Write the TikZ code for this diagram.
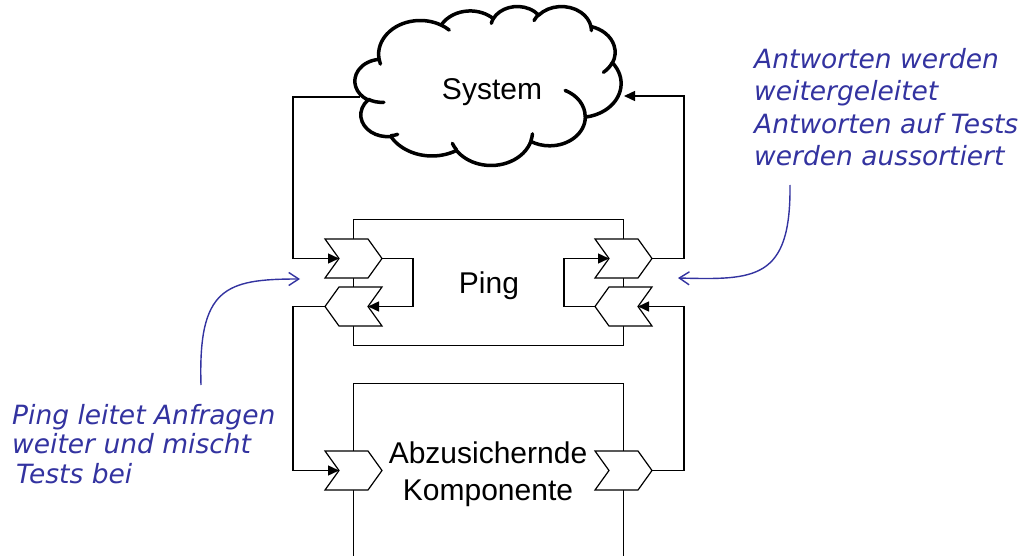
\documentclass[tikz,border=0pt]{standalone}
\usepackage{fontspec}
\setmainfont{Liberation Sans}
\newfontfamily\handfont{DejaVu Sans}
\usetikzlibrary{arrows.meta,calc}
\definecolor{annblue}{RGB}{51,51,160}
\newcommand\mychevR[3]{%
  \draw[chev] (#2,#3-19.5) -- ++(43,0) -- ++(14,19.5) -- ++(-14,19.5) -- ++(-43,0) -- ++(14,-19.5) -- cycle;
  \coordinate (#1in) at (#2+14,#3);
  \coordinate (#1out) at (#2+57,#3);}
\newcommand\mychevL[3]{%
  \draw[chev] (#2,#3) -- ++(14,-19.5) -- ++(43,0) -- ++(-14,19.5) -- ++(14,19.5) -- ++(-43,0) -- cycle;
  \coordinate (#1in) at (#2+43,#3);
  \coordinate (#1out) at (#2,#3);}
\begin{document}
\begin{tikzpicture}[x=1pt,y=-1pt,
  box/.style={draw, line width=1pt, inner sep=0pt},
  boxline/.style={draw, line width=1pt},
  chev/.style={draw, fill=white, line width=1.2pt, line join=miter},
  conn/.style={line width=1.4pt, -{Triangle[length=11pt,width=10pt]}},
  lbl/.style={font=\fontsize{30}{37}\selectfont, inner sep=0pt},
  cloudline/.style={line width=3.5pt, line join=round, line cap=round},
  annR/.style={font=\handfont\itshape\fontsize{26.5}{32.5}\selectfont, text=annblue, align=left, inner sep=0pt, anchor=north west},
  annL/.style={font=\handfont\itshape\fontsize{26.5}{29.5}\selectfont, text=annblue, align=left, inner sep=0pt, anchor=north west},
  annarrow/.style={draw=annblue, line width=1.4pt, -{Straight Barb[length=10pt,width=13pt]}}]
\useasboundingbox (0,0) rectangle (1023,556);

% boxes
\node[box, minimum width=270pt, minimum height=125pt] (ping) at (488,282.5) {};
\node[lbl, anchor=base] (pinglbl) at (489,293) {Ping};
\draw[boxline] (353,557) -- (353,383) -- (623,383) -- (623,557);
\node[lbl, align=center] (komp) at (488,474) {Abzusichernde\\Komponente};

% bus coordinates
\coordinate (busL) at (293,0);
\coordinate (busLi) at (413,0);
\coordinate (busRi) at (564,0);
\coordinate (busR) at (684,0);
\coordinate (cloudL) at (360,97);
\coordinate (cloudR) at (624,96);

% chevrons (ports)
\mychevR{L1}{325}{258.5}
\mychevL{L2}{325}{306.5}
\mychevR{R1}{595}{258.5}
\mychevL{R2}{595}{306.5}
\mychevR{A1}{325}{470.5}
\mychevR{A2}{595}{470.5}

% connectors
\draw[conn] (cloudL) -| (busL |- L1in) -- (L1in);
\draw[conn] (L1out) -| (busLi |- L2in) -- (L2in);
\draw[conn] (L2out) -| (busL |- A1in) -- (A1in);
\draw[conn] (A2out) -| (busR |- R2in) -- (R2in);
\draw[conn] (R2out) -| (busRi |- R1in) -- (R1in);
\draw[conn] (R1out) -| (busR |- cloudR) -- (cloudR);

% cloud
\begin{scope}[shift={(355,6)}, x=0.61574pt, y=-0.36782pt]
\draw[cloudline, fill=white] (39.00,143.70)
  arc[start angle=-187.745, end angle=-59.636, x radius=67.53, y radius=91.90]
  arc[start angle=-152.02, end angle=-45.405, x radius=53.33, y radius=72.67]
  arc[start angle=-153.50, end angle=-37.346, x radius=43.65, y radius=59.45]
  arc[start angle=-139.71, end angle=-10.211, x radius=48.57, y radius=65.95]
  arc[start angle=-74.77, end angle=23.207, x radius=53.33, y radius=72.73]
  arc[start angle=-37.54, end angle=81.863, x radius=67.75, y radius=92.20]
  arc[start angle=0.4596, end angle=121.981, x radius=57.85, y radius=78.67]
  arc[start angle=16.845, end angle=146.225, x radius=67.52, y radius=92.15]
  arc[start angle=58.983, end angle=150.17, x radius=77.20, y radius=105.43]
  arc[start angle=-276.694, end angle=-136.89, x radius=43.60, y radius=59.18]
  arc[start angle=-239.64, end angle=-95.888, x radius=43.45, y radius=59.45]
  -- cycle;
\draw[cloudline] (46.93,261.77) arc[start angle=85.546, end angle=120.36, x radius=43.45, y radius=59.45];
\draw[cloudline] (69.28,348.99) arc[start angle=68.235, end angle=83.306, x radius=43.60, y radius=59.18];
\draw[cloudline] (164.78,390.90) arc[start angle=146.225, end angle=158.473, x radius=67.52, y radius=92.15];
\draw[cloudline] (288.27,347.51) arc[start angle=4.738, end angle=16.845, x radius=67.52, y radius=92.15];
\draw[cloudline] (341.29,229.54) arc[start angle=-64.03, end angle=0.4596, x radius=57.85, y radius=78.67];
\draw[cloudline] (417.98,153.54) arc[start angle=23.207, end angle=49.647, x radius=53.33, y radius=72.73];
\draw[cloudline] (383.24,54.26) arc[start angle=-10.211, end angle=0.821, x radius=48.57, y radius=65.95];
\draw[cloudline] (290.78,39.52) arc[start angle=-156.275, end angle=-139.71, x radius=48.57, y radius=65.95];
\draw[cloudline] (221.41,47.20) arc[start angle=-167.726, end angle=-153.50, x radius=43.65, y radius=59.45];
\draw[cloudline] (140.00,51.92) arc[start angle=-59.636, end angle=-45.69, x radius=67.53, y radius=91.90];
\draw[cloudline] (41.27,157.89) arc[start angle=163.194, end angle=172.255, x radius=67.53, y radius=91.90];
\end{scope}
\node[lbl, anchor=base] (system) at (492,100) {System};

% annotations
\node[annR] (noteR) at (754,48) {Antworten werden\\weitergeleitet\\Antworten auf Tests\\werden aussortiert};
\node[annL] (noteL) at (12,404) {Ping leitet Anfragen\\weiter und mischt\\\hspace*{4pt}Tests bei};
\coordinate (annRfrom) at (790,185);
\coordinate (annRto) at (678,278);
\coordinate (annLfrom) at (201,385);
\coordinate (annLto) at (300,279);
\draw[annarrow] (annRfrom) .. controls (791,280) and (755,280) .. (annRto);
\draw[annarrow] (annLfrom) .. controls (198,288) and (225,279) .. (annLto);
\end{tikzpicture}
\end{document}
